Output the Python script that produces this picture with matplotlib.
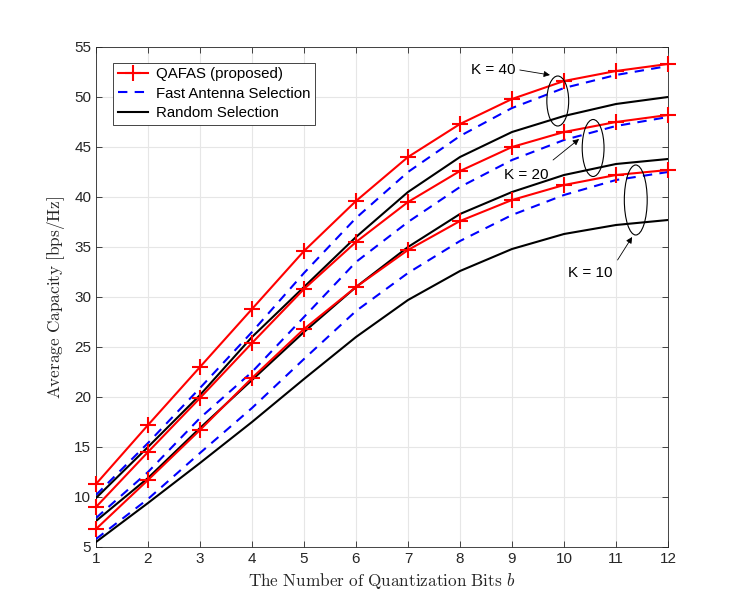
import matplotlib
matplotlib.use("Agg")
import matplotlib.pyplot as plt
from matplotlib.patches import Ellipse
import numpy as np

bits = [1, 2, 3, 4, 5, 6, 7, 8, 9, 10, 11, 12]
red40 = [11.3, 17.2, 23.0, 28.8, 34.6, 39.6, 44.0, 47.3, 49.8, 51.6, 52.6, 53.3]
blue40 = [10.2, 15.4, 20.9, 26.5, 32.4, 37.9, 42.5, 46.1, 48.9, 50.9, 52.2, 53.1]
black40 = [9.9, 15.0, 20.2, 26.0, 31.0, 36.0, 40.5, 44.0, 46.5, 48.1, 49.3, 50.0]
red20 = [9.0, 14.5, 19.9, 25.4, 30.8, 35.5, 39.5, 42.6, 45.0, 46.5, 47.5, 48.2]
blue20 = [7.9, 12.5, 17.9, 22.5, 28.0, 33.5, 37.5, 41.0, 43.7, 45.7, 47.1, 48.0]
black20 = [7.6, 11.9, 16.9, 21.7, 26.5, 31.0, 35.0, 38.3, 40.5, 42.2, 43.3, 43.8]
red10 = [6.8, 11.7, 16.7, 21.9, 26.8, 31.0, 34.7, 37.6, 39.7, 41.2, 42.2, 42.7]
blue10 = [5.8, 9.8, 14.4, 18.9, 23.8, 28.6, 32.4, 35.6, 38.2, 40.2, 41.7, 42.5]
black10 = [5.5, 9.4, 13.4, 17.5, 21.8, 26.0, 29.7, 32.6, 34.8, 36.3, 37.2, 37.7]

legend_labels = ["QAFAS (proposed)", "Fast Antenna Selection", "Random Selection"]

plt.rcParams['font.family'] = ['Liberation Sans', 'DejaVu Sans']
plt.rcParams['mathtext.fontset'] = 'cm'

fig = plt.figure(figsize=(7.4, 6.16), dpi=100)
ax = fig.add_axes([96/740, 69/616, 572/740, 500/616])

axc = '#262626'
for reds, blues, blacks, first in [(red40, blue40, black40, True),
                                   (red20, blue20, black20, False),
                                   (red10, blue10, black10, False)]:
    ax.plot(bits, reds, color='#ff0000', lw=1.5, marker='+', ms=11, mew=1.5,
            label=legend_labels[0] if first else None, zorder=4, clip_on=False)
    ax.plot(bits, blues, color='#0000ff', lw=1.5, ls=(0, (4.5, 3.5)),
            label=legend_labels[1] if first else None, zorder=3)
    ax.plot(bits, blacks, color='#000000', lw=1.5,
            label=legend_labels[2] if first else None, zorder=3)

ax.set_xlim(1, 12)
ax.set_ylim(5, 55)
ax.set_xticks(bits)
ax.set_yticks(np.arange(5, 56, 5))
ax.grid(True, color='#e6e6e6', lw=0.8)
ax.set_axisbelow(True)
ax.tick_params(direction='in', length=4, width=0.6, colors=axc, labelsize=11,
               top=True, right=True, labelcolor=axc)
for s in ax.spines.values():
    s.set_color(axc)
    s.set_linewidth(0.6)

ax.set_xlabel(r'$\mathrm{The\ Number\ of\ Quantization\ Bits}\ b$', fontsize=12.4, color=axc, labelpad=4)
ax.set_ylabel(r'$\mathrm{Average\ Capacity\ [bps/Hz]}$', fontsize=12.4, color=axc, labelpad=5)

leg = ax.legend(loc='upper left', bbox_to_anchor=(0.030, 0.9686), fontsize=10.8,
                frameon=True, fancybox=False, edgecolor=axc, framealpha=1,
                handlelength=2.0, handletextpad=0.55, borderpad=0.3, labelspacing=0.36,
                borderaxespad=0)
leg.get_frame().set_linewidth(0.6)

# ellipses
for (cx, cy, w, h) in [(9.88, 49.6, 0.42, 5.0), (10.56, 44.9, 0.42, 5.7), (11.38, 39.7, 0.44, 7.0)]:
    ax.add_patch(Ellipse((cx, cy), w, h, fill=False, ec='black', lw=0.8, zorder=5))

arrowprops = dict(arrowstyle='-|>', color='black', lw=0.6, mutation_scale=9, shrinkA=0, shrinkB=0)
ax.annotate('', xy=(9.73, 52.2), xytext=(9.15, 52.7), arrowprops=arrowprops)
ax.text(8.63, 52.7, 'K = 40', ha='center', va='center', fontsize=11)
ax.annotate('', xy=(10.29, 45.8), xytext=(9.79, 43.7), arrowprops=arrowprops)
ax.text(9.28, 42.2, 'K = 20', ha='center', va='center', fontsize=11)
ax.annotate('', xy=(11.31, 36.0), xytext=(11.03, 33.7), arrowprops=arrowprops)
ax.text(10.5, 32.4, 'K = 10', ha='center', va='center', fontsize=11)

fig.savefig('out.png', dpi=100, facecolor='white')
